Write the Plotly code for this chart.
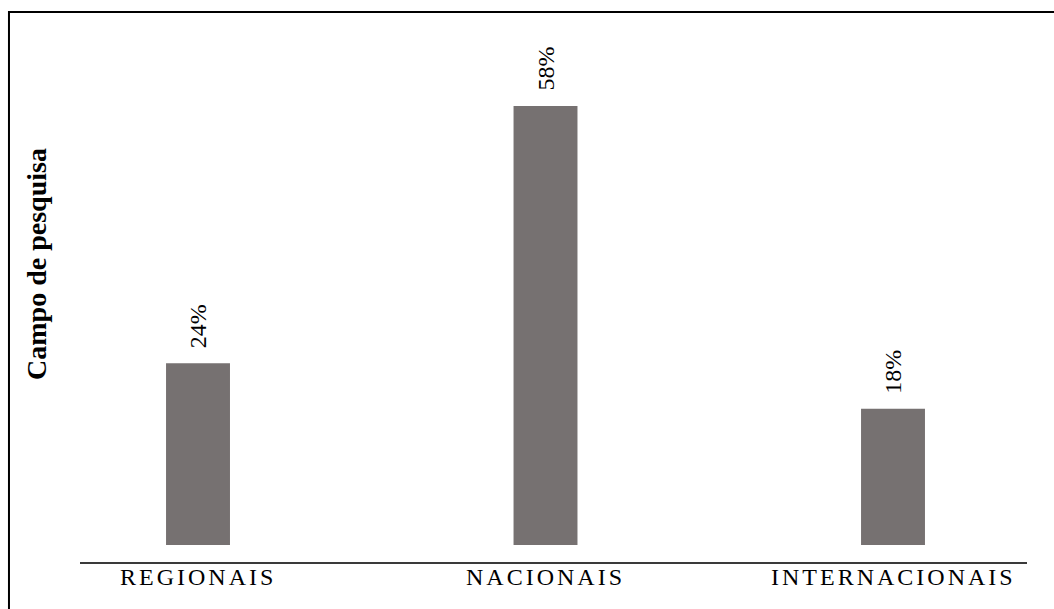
import plotly.graph_objects as go

# Share of studies by research scope
categories = ["REGIONAIS", "NACIONAIS", "INTERNACIONAIS"]
values = [24, 58, 18]
value_labels = ["24%", "58%", "18%"]

SERIF = "Liberation Serif, Times New Roman, serif"
BAR_COLOR = "#767171"

fig = go.Figure()
fig.add_trace(go.Bar(
    x=categories,
    y=values,
    width=0.184,
    marker=dict(color=BAR_COLOR, line=dict(width=0)),
    hoverinfo="skip",
))

# Rotated value labels above each bar
for cat, val, lab in zip(categories, values, value_labels):
    fig.add_annotation(
        x=cat, y=val, xref="x", yref="y",
        text=lab, showarrow=False, textangle=-90,
        yanchor="bottom", xanchor="center", yshift=13,
        font=dict(family=SERIF, size=24, color="#000000"),
    )

# Category names under the baseline, letter-spaced
for cat in categories:
    fig.add_annotation(
        x=cat, y=0, xref="x", yref="paper",
        text='<span style="letter-spacing:3px">%s</span>' % cat,
        showarrow=False, xanchor="center", yanchor="top", yshift=0,
        font=dict(family=SERIF, size=24, color="#000000"),
    )

# Vertical axis caption
fig.add_annotation(
    x=-0.0454, y=0.571, xref="paper", yref="paper",
    text="<b>Campo de pesquisa</b>", showarrow=False, textangle=-90,
    xanchor="center", yanchor="middle",
    font=dict(family=SERIF, size=28, color="#000000"),
)

# Outer frame
fig.add_shape(
    type="rect", xref="paper", yref="paper",
    x0=-0.075, x1=1.04, y0=-0.11, y1=1.0536,
    line=dict(color="#000000", width=2), fillcolor="rgba(0,0,0,0)",
    layer="above",
)

fig.update_layout(
    width=1054, height=609,
    margin=dict(l=80, r=27, t=40, b=47),
    paper_bgcolor="#ffffff", plot_bgcolor="#ffffff",
    showlegend=False,
    xaxis=dict(
        range=[-0.3396, 2.3856],
        showticklabels=False,
        showline=True, linecolor="#3a3a3a", linewidth=2,
        showgrid=False, zeroline=False, ticks="",
        fixedrange=True,
    ),
    yaxis=dict(
        range=[-2.246, 66.71],
        showticklabels=False, showgrid=False, zeroline=False,
        showline=False, ticks="", fixedrange=True,
    ),
)

fig.write_html("out.html")
